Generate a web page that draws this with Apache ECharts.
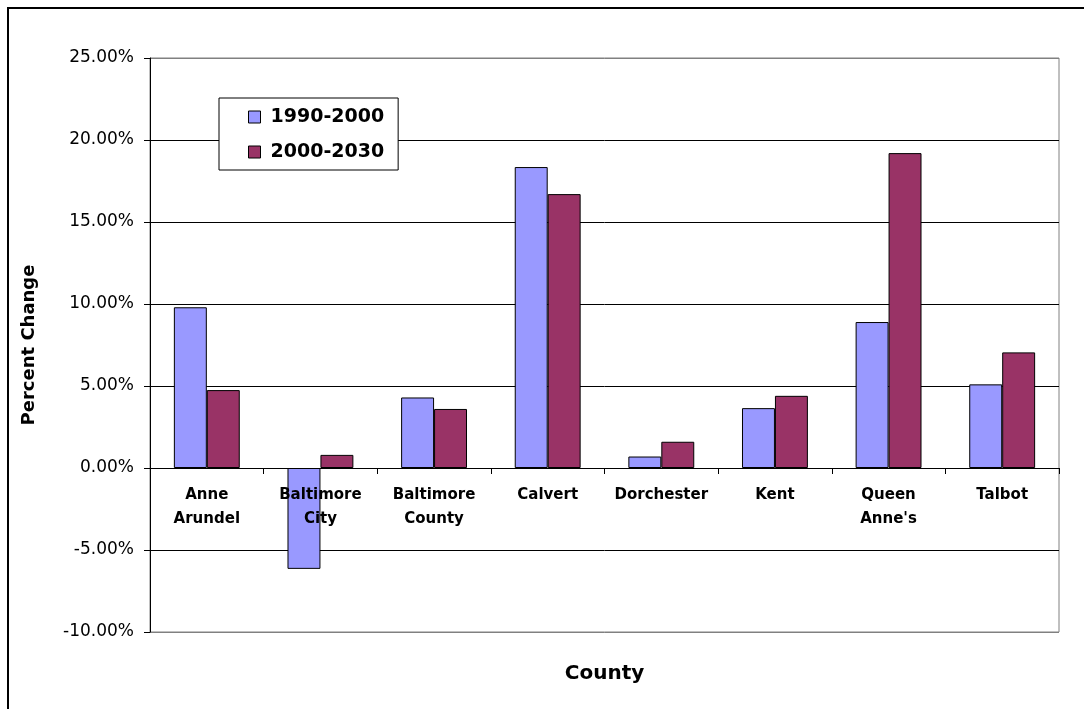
<!DOCTYPE html>
<html>
<head>
<meta charset="utf-8">
<title>Percent Change by County</title>
<script src="https://cdn.jsdelivr.net/npm/echarts@6/dist/echarts.min.js"></script>
<style>
    html, body { margin: 0; padding: 0; background: #fff; }
    #chart { width: 1084px; height: 709px; }
</style>
</head>
<body>
<div id="chart"></div>
<script>
// 数据
var counties = ['Anne\nArundel', 'Baltimore\nCity', 'Baltimore\nCounty', 'Calvert', 'Dorchester', 'Kent', 'Queen\nAnne\'s', 'Talbot'];
var change9000 = [9.8, -6.15, 4.3, 18.35, 0.7, 3.65, 8.9, 5.1];
var change0030 = [4.75, 0.8, 3.6, 16.7, 1.6, 4.4, 19.2, 7.05];
var seriesNames = ['1990-2000', '2000-2030'];
var yTicks = { min: -10, max: 25, step: 5 };

(function () {
    var chart = echarts.init(document.getElementById('chart'));
    var font = 'DejaVu Sans';

    // 绘图区: 上 58, 下 632 -> 零线位置
    var plotTop = 58, plotBottom = 632;
    var zeroY = plotTop + (plotBottom - plotTop) * yTicks.max / (yTicks.max - yTicks.min);

    var option = {
        animation: false,
        backgroundColor: '#fff',
        // 外框
        graphic: [{
            type: 'rect',
            shape: { x: 8, y: 8, width: 1100, height: 720 },
            style: { fill: 'none', stroke: '#000', lineWidth: 2 },
            silent: true
        }],
        grid: {
            left: 150,
            top: plotTop,
            right: 25,
            bottom: 709 - plotBottom,
            outerBoundsMode: 'none',
            containLabel: false,
            show: true,
            borderColor: '#808080',
            borderWidth: 1
        },
        legend: {
            data: seriesNames,
            orient: 'vertical',
            left: 219,
            top: 98,
            backgroundColor: '#fff',
            borderColor: '#000',
            borderWidth: 1,
            padding: [9, 14, 8, 29],
            itemGap: 15,
            itemWidth: 12,
            itemHeight: 12,
            icon: 'rect',
            itemStyle: { borderColor: '#000', borderWidth: 1 },
            textStyle: {
                fontFamily: font,
                fontWeight: 'bold',
                fontSize: 19,
                lineHeight: 20,
                color: '#000',
                padding: [0, 0, 0, 5]
            }
        },
        xAxis: {
            type: 'category',
            data: counties,
            z: 3,
            position: 'bottom',
            offset: -(plotBottom - zeroY),   // 把轴放到 0 线上
            name: 'County',
            nameLocation: 'middle',
            nameGap: 196,
            nameTextStyle: { fontFamily: font, fontWeight: 'bold', fontSize: 20, color: '#000' },
            axisLine: { onZero: false, lineStyle: { color: '#000', width: 1 } },
            axisTick: { show: true, interval: 0, length: 6, inside: false, lineStyle: { color: '#000' } },
            axisLabel: {
                interval: 0,
                margin: 15,
                fontFamily: font,
                fontWeight: 'bold',
                fontSize: 15,
                lineHeight: 24,
                color: '#000'
            }
        },
        yAxis: {
            type: 'value',
            min: yTicks.min,
            max: yTicks.max,
            interval: yTicks.step,
            name: 'Percent Change',
            nameLocation: 'middle',
            nameGap: 112,
            nameTextStyle: { fontFamily: font, fontWeight: 'bold', fontSize: 18, color: '#000' },
            axisLine: { show: true, lineStyle: { color: '#000', width: 1 } },
            axisTick: { show: true, length: 6, lineStyle: { color: '#000' } },
            axisLabel: {
                margin: 16,
                fontFamily: font,
                fontSize: 17,
                color: '#000',
                formatter: function (v) { return v.toFixed(2) + '%'; }
            },
            splitLine: {
                show: true,
                lineStyle: { color: ['#808080', '#000', '#000', '#000', '#000', '#000', '#000', '#808080'], width: 1 }
            }
        },
        series: [{
            name: seriesNames[0],
            type: 'bar',
            data: change9000,
            barGap: '0%',
            barCategoryGap: '42%',
            itemStyle: { color: '#9999FF', borderColor: '#000', borderWidth: 1 }
        }, {
            name: seriesNames[1],
            type: 'bar',
            data: change0030,
            barGap: '0%',
            barCategoryGap: '42%',
            itemStyle: { color: '#993366', borderColor: '#000', borderWidth: 1 }
        }]
    };

    chart.setOption(option);
})();
</script>
</body>
</html>
